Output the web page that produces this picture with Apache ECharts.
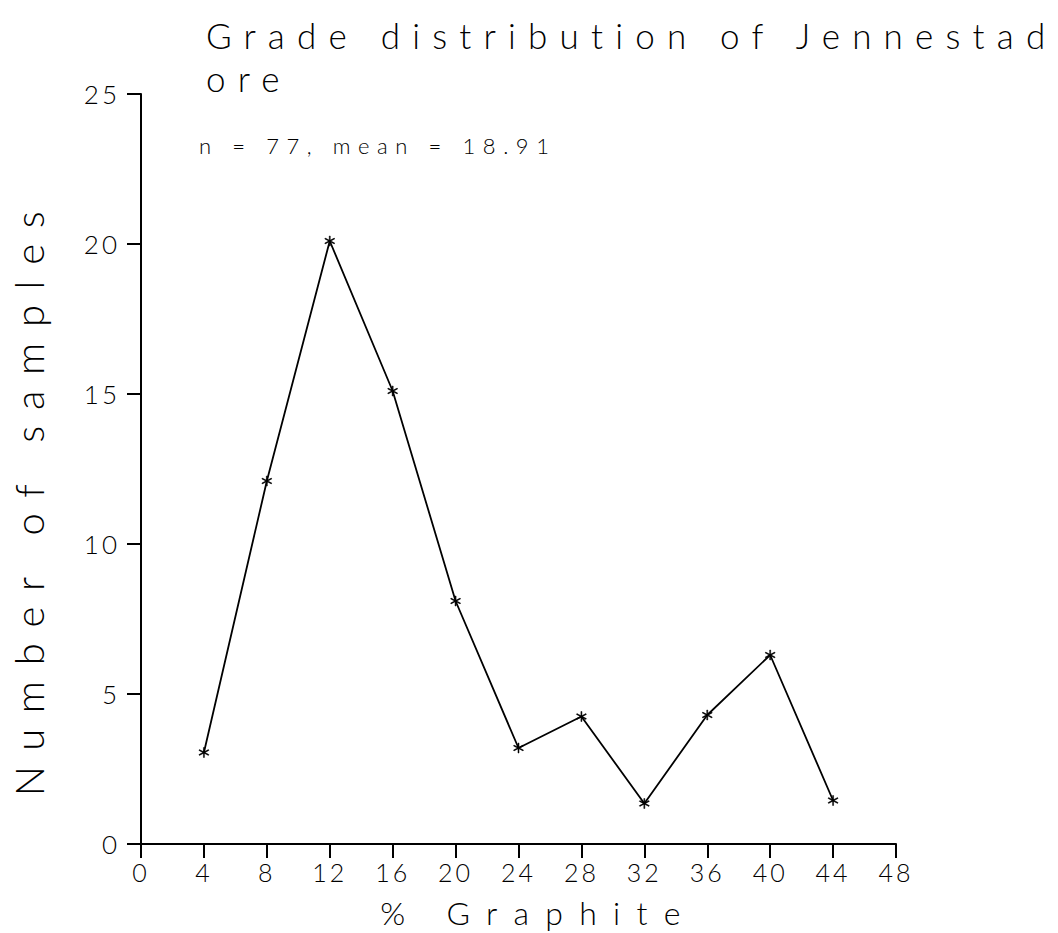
<!DOCTYPE html>
<html>
<head>
<meta charset="utf-8">
<script src="https://cdn.jsdelivr.net/npm/echarts@6/dist/echarts.min.js"></script>
<style>
  html, body { margin: 0; padding: 0; background: #fff; }
  #chart { width: 1058px; height: 933px; }
</style>
</head>
<body>
<div id="chart"></div>
<script>
// ---- data ----
const titleLines = ["Grade distribution of Jennestad", "ore"];
const subtitleText = "n = 77, mean = 18.91";
const xAxisName = "% Graphite";
const yAxisName = "Number of samples";
const grades = [4, 8, 12, 16, 20, 24, 28, 32, 36, 40, 44];          // % graphite (class value)
const counts = [3.05, 12.1, 20.1, 15.1, 8.1, 3.2, 4.25, 1.35, 4.3, 6.3, 1.45]; // number of samples
const xTicks = { min: 0, max: 48, interval: 4 };
const yTicks = { min: 0, max: 25, interval: 5 };

const FONT = 'Lato, "Noto Sans", "Liberation Sans", sans-serif';
const WEIGHT = 300;
const INK = '#000';

// asterisk marker
const STAR = 'path://M-0.9,-10 L0.9,-10 L0.9,10 L-0.9,10 Z ' +
  'M9.11,4.22 L8.21,5.78 L-9.11,-4.22 L-8.21,-5.78 Z ' +
  'M-8.21,5.78 L-9.11,4.22 L8.21,-5.78 L9.11,-4.22 Z';

const chart = echarts.init(document.getElementById('chart'), null, { renderer: 'svg' });

const option = {
  animation: false,
  backgroundColor: '#fff',
  title: [
    {
      text: titleLines.join('\n'),
      left: 201, top: 8,
      textStyle: { fontFamily: FONT, fontWeight: WEIGHT, fontSize: 35, lineHeight: 43, color: INK }
    },
    {
      text: subtitleText,
      left: 194, top: 128,
      textStyle: { fontFamily: FONT, fontWeight: WEIGHT, fontSize: 22, lineHeight: 24, color: INK }
    }
  ],
  grid: { left: 141, right: 162, top: 94, bottom: 87, containLabel: false },
  xAxis: {
    type: 'value',
    min: xTicks.min, max: xTicks.max, interval: xTicks.interval,
    name: xAxisName,
    nameLocation: 'middle',
    nameGap: 52,
    nameTextStyle: { fontFamily: FONT, fontWeight: WEIGHT, fontSize: 32, color: INK, padding: [0, 0, 0, 40] },
    axisLine: { show: true, onZero: false, lineStyle: { color: INK, width: 2 } },
    axisTick: { show: true, length: 14, lineStyle: { color: INK, width: 2 } },
    axisLabel: { fontFamily: FONT, fontWeight: WEIGHT, fontSize: 25, color: INK, margin: 15 },
    splitLine: { show: false }
  },
  yAxis: {
    type: 'value',
    min: yTicks.min, max: yTicks.max, interval: yTicks.interval,
    name: yAxisName,
    nameLocation: 'middle',
    nameRotate: 90,
    nameGap: 92,
    nameTextStyle: { fontFamily: FONT, fontWeight: WEIGHT, fontSize: 40, color: INK, padding: [0, 54, 0, 0] },
    axisLine: { show: true, onZero: false, lineStyle: { color: INK, width: 2 } },
    axisTick: { show: true, length: 14, lineStyle: { color: INK, width: 2 } },
    axisLabel: { fontFamily: FONT, fontWeight: WEIGHT, fontSize: 26, color: INK, margin: 21 },
    splitLine: { show: false }
  },
  series: [{
    type: 'line',
    data: grades.map((g, i) => [g, counts[i]]),
    symbol: STAR,
    symbolSize: 10,
    showAllSymbol: true,
    itemStyle: { color: INK, borderColor: INK, borderWidth: 0.5 },
    lineStyle: { color: INK, width: 1.8 },
    emphasis: { disabled: true }
  }]
};

chart.setOption(option);

// plotter-style letter spacing for the texts
function applySpacing() {
  const texts = Array.from(document.querySelectorAll('#chart svg text'));
  const spaceTo = (el, target) => {
    const n = el.textContent.length;
    el.removeAttribute('letter-spacing');
    const w = el.getComputedTextLength();
    const s = (target - w) / Math.max(1, n - 1);
    el.setAttribute('letter-spacing', s.toFixed(2));
    return s;
  };
  let titleSpacing = 6;
  texts.forEach(el => {
    const t = el.textContent;
    if (t === titleLines[0]) titleSpacing = spaceTo(el, 840);
  });
  texts.forEach(el => {
    const t = el.textContent;
    if (t === titleLines[1]) el.setAttribute('letter-spacing', titleSpacing.toFixed(2));
    else if (t === subtitleText) spaceTo(el, 350);
    else if (t === xAxisName) spaceTo(el, 300);
    else if (t === yAxisName) spaceTo(el, 585);
    else if (/^\d+$/.test(t)) el.setAttribute('letter-spacing', '3');
  });
}
const zr = chart.getZr();
if (zr && zr.flush) zr.flush();
applySpacing();
chart.on('finished', applySpacing);
</script>
</body>
</html>
